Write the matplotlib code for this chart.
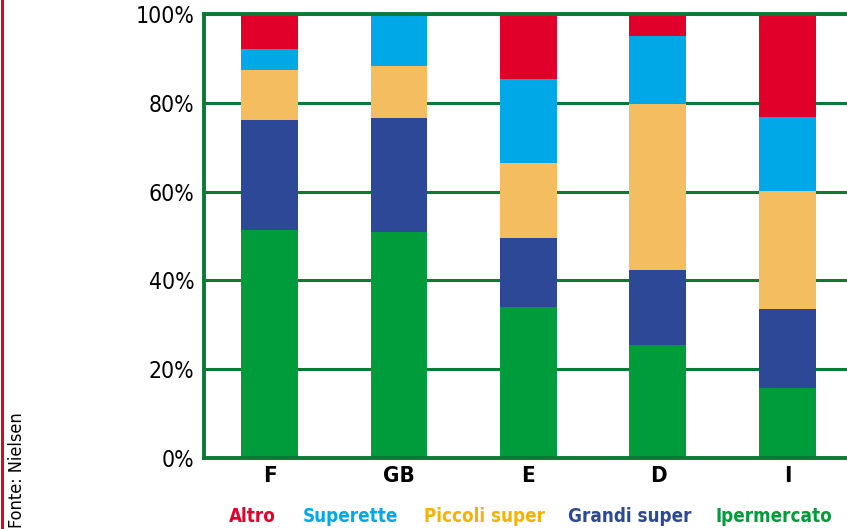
import matplotlib
matplotlib.use("Agg")
import matplotlib.pyplot as plt
from matplotlib import font_manager as fm
import numpy as np

# Quote di mercato per canale (%), dal basso verso l'alto
paesi = ["F", "GB", "E", "D", "I"]
ipermercato = [51.4, 51.0, 34.0, 25.5, 15.8]
grandi_super = [24.7, 25.6, 15.5, 16.8, 17.8]
piccoli_super = [11.3, 11.7, 16.9, 37.4, 26.5]
superette = [4.7, 11.7, 19.0, 15.3, 16.7]
altro = [7.9, 0.0, 14.6, 5.0, 23.2]

serie = ["Ipermercato", "Grandi super", "Piccoli super", "Superette", "Altro"]
valori = [ipermercato, grandi_super, piccoli_super, superette, altro]
colori = ["#009b3a", "#2e4898", "#f4bd60", "#00a8e8", "#e0002a"]
colori_testo = ["#009b3a", "#2e4898", "#f5b200", "#00a8e8", "#e0002a"]
y_ticks = [0, 20, 40, 60, 80, 100]

verde_griglia = "#0a7a35"

# Carattere stretto se disponibile, altrimenti Liberation Sans
condensati = [f for f in fm.fontManager.ttflist
              if f.name == "DejaVu Sans" and f.stretch in ("condensed", 300, "semi-condensed")]
if condensati:
    font_r = fm.FontProperties(family="DejaVu Sans", stretch="condensed")
    font_b = fm.FontProperties(family="DejaVu Sans", stretch="condensed", weight="bold")
else:
    font_r = fm.FontProperties(family="Liberation Sans")
    font_b = fm.FontProperties(family="Liberation Sans", weight="bold")

fig = plt.figure(figsize=(8.47, 5.29), dpi=100)
ax = fig.add_axes([204 / 847, 1 - 458 / 529, 1 - 204 / 847, (458 - 14) / 529])

x = np.arange(len(paesi))
base = np.zeros(len(paesi))
for nome, vals, col in zip(serie, valori, colori):
    vals = np.array(vals)
    ax.bar(x, vals, width=0.44, bottom=base, color=col, zorder=2, linewidth=0)
    base += vals

ax.set_xlim(-0.506, 4.46)
ax.set_ylim(0, 100)
ax.set_yticks(y_ticks)
ax.set_yticklabels([f"{v}%" for v in y_ticks])
ax.set_xticks(x)
ax.set_xticklabels(paesi)

ax.set_axisbelow(True)
ax.yaxis.grid(True, color=verde_griglia, linewidth=2.2, zorder=1)
ax.xaxis.grid(False)

for s in ["left", "bottom", "top"]:
    ax.spines[s].set_color(verde_griglia)
    ax.spines[s].set_linewidth(2.8)
    ax.spines[s].set_zorder(3)
ax.spines["right"].set_visible(False)

ax.tick_params(axis="y", length=0, pad=7, labelcolor="black")
ax.tick_params(axis="x", length=0, pad=6, labelcolor="black")
for t in ax.get_yticklabels():
    t.set_fontproperties(font_r)
    t.set_fontsize(16.5)
for t in ax.get_xticklabels():
    t.set_fontproperties(font_b)
    t.set_fontsize(16)

# Legenda testuale in basso, da sinistra a destra
legenda_x = [252, 350, 484, 629.5, 774]
ordine = [4, 3, 2, 1, 0]
for xp, i in zip(legenda_x, ordine):
    fig.text(xp / 847, 1 - 517 / 529, serie[i], color=colori_testo[i],
             ha="center", va="center", fontproperties=font_b, fontsize=13.5)

# Fonte e filetto rosso sul bordo sinistro
fig.text(17 / 847, 1 - 470 / 529, "Fonte: Nielsen", rotation=90,
         ha="center", va="center", fontproperties=font_r, fontsize=13)
fig.add_artist(plt.Line2D([1.5 / 847, 1.5 / 847], [0, 1], color="#c8102e",
                          linewidth=2.2, transform=fig.transFigure))

fig.savefig("out.png", dpi=100)
